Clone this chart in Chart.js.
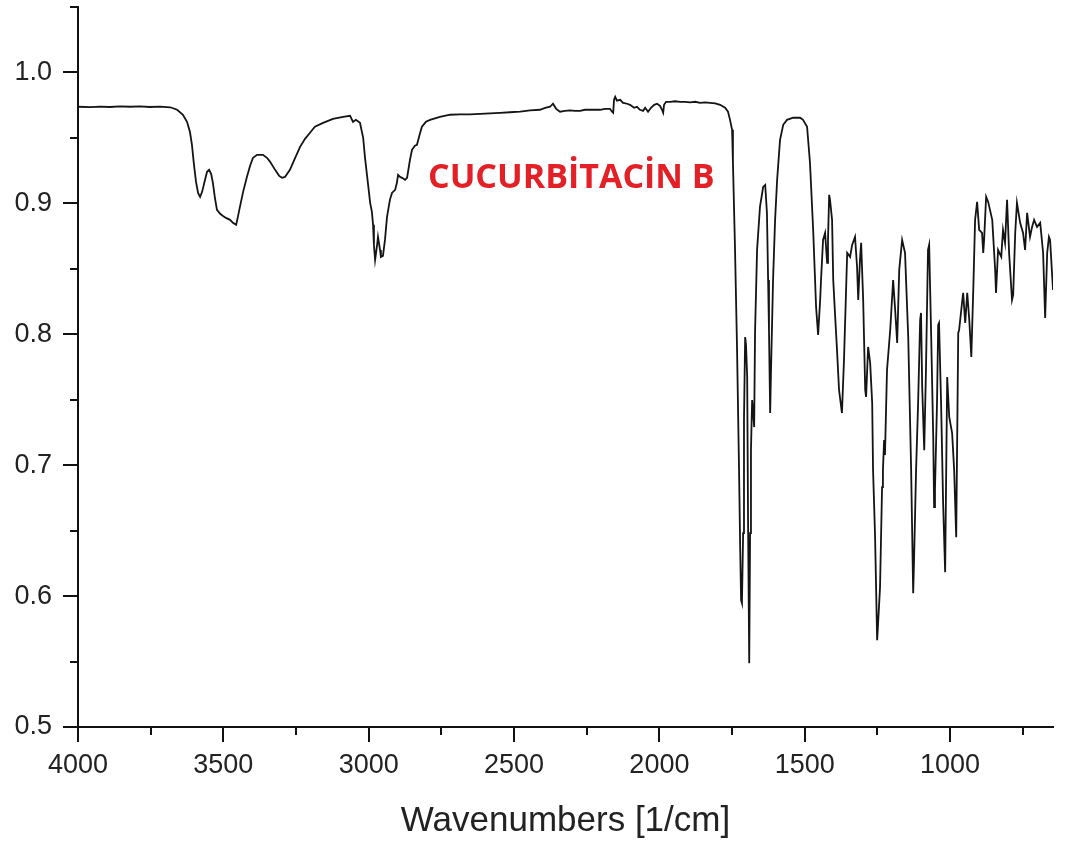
<!DOCTYPE html>
<html>
<head>
<meta charset="utf-8">
<title>Cucurbitacin B IR spectrum</title>
<script src="https://cdn.jsdelivr.net/npm/chart.js@4.4.1/dist/chart.umd.min.js"></script>
<style>
  html, body { margin: 0; padding: 0; background: #ffffff; overflow: hidden; }
  canvas { display: block; }
</style>
</head>
<body>
<canvas id="spectrum" width="1072" height="844"></canvas>
<script>
// FT-IR transmittance spectrum, wavenumber in 1/cm (descending)
const wavenumbers = [
  4000, 3959, 3924, 3890, 3856, 3821, 3787, 3752, 3718, 3683, 3659, 3639, 3625, 3615, 3608, 3601,
  3594, 3587, 3580, 3573, 3563, 3556, 3549, 3542, 3536, 3529, 3522, 3511, 3501, 3491, 3477, 3467,
  3456, 3450, 3443, 3432, 3419, 3408, 3398, 3384, 3364, 3350, 3339, 3322, 3308, 3298, 3288, 3271,
  3253, 3236, 3219, 3202,
  3185, 3157, 3123, 3088, 3064, 3054, 3044, 3030, 3019, 3013, 3002, 2995, 2989, 2985, 2982, 2978,
  2971, 2968, 2961, 2958, 2951, 2944, 2937, 2927, 2920, 2909, 2903, 2899, 2892, 2885, 2875, 2868,
  2858, 2851, 2841, 2834, 2823, 2817, 2803, 2789, 2755, 2720,
  2686, 2651, 2617, 2583, 2548, 2514, 2479, 2445, 2411, 2393, 2376, 2366, 2355, 2342, 2325, 2307,
  2290, 2273, 2256, 2239, 2204, 2187, 2170, 2163, 2159, 2156, 2152, 2146, 2135, 2125, 2111, 2101,
  2087, 2077, 2067, 2056, 2049, 2039, 2029, 2018, 2008, 1998, 1991, 1987, 1984, 1977, 1963, 1946,
  1929, 1912, 1894, 1877, 1860, 1843, 1826, 1808, 1791, 1774, 1764, 1757, 1750,
  1747, 1740, 1733, 1726, 1722, 1719, 1716, 1712, 1709, 1705, 1702, 1698, 1695, 1691, 1688, 1685,
  1681, 1678, 1674, 1671, 1664, 1654, 1643, 1636, 1630, 1626, 1623, 1619, 1616, 1609, 1602, 1595,
  1585, 1574, 1561, 1540, 1516, 1506, 1492, 1482, 1471, 1461, 1454, 1447, 1444, 1437, 1430, 1423,
  1420, 1416, 1413, 1406, 1402, 1396, 1389, 1382, 1372, 1365, 1354, 1344, 1337, 1327, 1320, 1316,
  1310, 1306, 1299, 1292, 1289, 1282, 1275, 1268, 1265, 1258, 1251, 1248, 1241, 1234, 1231, 1227,
  1224, 1217, 1206, 1196, 1189, 1182, 1175, 1165, 1155, 1144, 1134, 1127, 1124, 1117, 1110, 1103,
  1100, 1096, 1089, 1083, 1076, 1072, 1065, 1058, 1055, 1052, 1045, 1041, 1038, 1031, 1024, 1017,
  1010, 1003, 993, 986, 979, 972, 969, 959, 955, 948, 941, 934, 927, 920, 914, 907,
  900, 890, 886, 883, 876, 869, 855, 845, 842, 835, 824, 818, 811, 804, 797, 787,
  783, 776, 770, 759, 749, 742, 735, 725, 718, 711, 701, 690, 680, 673, 666, 660,
  656, 646
];

const transmittance = [
  0.9738, 0.9735, 0.9739, 0.9736, 0.9741, 0.9738, 0.9741, 0.9736, 0.9739, 0.9734, 0.9715, 0.9677, 0.9623, 0.9547, 0.9447, 0.9294,
  0.9164, 0.9080, 0.9050, 0.9088, 0.9180, 0.9241, 0.9256, 0.9225, 0.9157, 0.9042, 0.8950, 0.8920, 0.8904, 0.8889, 0.8874, 0.8851,
  0.8836, 0.8897, 0.8973, 0.9088, 0.9202, 0.9287, 0.9348, 0.9371, 0.9371, 0.9348, 0.9317, 0.9256, 0.9210, 0.9195, 0.9202, 0.9256,
  0.9348, 0.9432, 0.9493, 0.9539,
  0.9585, 0.9615, 0.9646, 0.9661, 0.9669, 0.9623, 0.9638, 0.9615, 0.9501, 0.9355, 0.9141, 0.9004, 0.8935, 0.8836, 0.8683, 0.8568,
  0.8683, 0.8744, 0.8644, 0.8591, 0.8599, 0.8721, 0.8897, 0.9027, 0.9080, 0.9103, 0.9157, 0.9218, 0.9202, 0.9195, 0.9180, 0.9195,
  0.9333, 0.9409, 0.9441, 0.9447, 0.9539, 0.9585, 0.9623, 0.9638, 0.9661, 0.9677,
  0.9680, 0.9680, 0.9684, 0.9688, 0.9692, 0.9696, 0.9700, 0.9711, 0.9715, 0.9730, 0.9738, 0.9761, 0.9722, 0.9700, 0.9707, 0.9711,
  0.9707, 0.9707, 0.9715, 0.9715, 0.9715, 0.9722, 0.9722, 0.9700, 0.9692, 0.9791, 0.9814, 0.9784, 0.9791, 0.9768, 0.9761, 0.9753,
  0.9730, 0.9738, 0.9715, 0.9707, 0.9730, 0.9700, 0.9730, 0.9753, 0.9761, 0.9745, 0.9715, 0.9692, 0.9753, 0.9776, 0.9776, 0.9780,
  0.9776, 0.9776, 0.9772, 0.9776, 0.9768, 0.9772, 0.9768, 0.9764, 0.9753, 0.9730, 0.9700, 0.9638, 0.9562,
  0.9310, 0.8667, 0.7903, 0.6963, 0.6351, 0.5969, 0.5946, 0.6481, 0.7345, 0.7979, 0.7918, 0.7673, 0.6580, 0.5487, 0.6481, 0.7115,
  0.7498, 0.7421, 0.7291, 0.8010, 0.8644, 0.8973, 0.9126, 0.9141, 0.8927, 0.8415, 0.8033, 0.7398, 0.7727, 0.8415, 0.8874, 0.9180,
  0.9485, 0.9600, 0.9638, 0.9654, 0.9654, 0.9638, 0.9585, 0.9310, 0.8797, 0.8209, 0.7995, 0.8262, 0.8415, 0.8721, 0.8774, 0.8545,
  0.8721, 0.9065, 0.9027, 0.8874, 0.8415, 0.8163, 0.7880, 0.7574, 0.7398, 0.7803, 0.8621, 0.8591, 0.8683, 0.8744, 0.8514, 0.8262,
  0.8568, 0.8698, 0.8262, 0.7574, 0.7521, 0.7903, 0.7781, 0.7475, 0.6963, 0.6450, 0.5663, 0.5778, 0.6068, 0.6833, 0.6963, 0.7192,
  0.7077, 0.7727, 0.8033, 0.8415, 0.8186, 0.7933, 0.8492, 0.8721, 0.8621, 0.7979, 0.6963, 0.6022, 0.6274, 0.6963, 0.7475, 0.8109,
  0.8163, 0.7597, 0.7115, 0.7727, 0.8644, 0.8683, 0.7979, 0.7215, 0.6680, 0.6810, 0.7475, 0.8071, 0.8086, 0.7475, 0.6710, 0.6183,
  0.7673, 0.7368, 0.7245, 0.6963, 0.6450, 0.8010, 0.8033, 0.8239, 0.8316, 0.8086, 0.8316, 0.8109, 0.7826, 0.8362, 0.8874, 0.9011,
  0.8797, 0.8774, 0.8621, 0.8721, 0.9050, 0.9011, 0.8874, 0.8492, 0.8316, 0.8644, 0.8591, 0.8797, 0.8698, 0.9027, 0.8621, 0.8262,
  0.8301, 0.8774, 0.9004, 0.8851, 0.8774, 0.8644, 0.8927, 0.8744, 0.8820, 0.8874, 0.8820, 0.8851, 0.8621, 0.8125, 0.8621, 0.8744,
  0.8721, 0.8339
];

// Axis ranges and tick positions
const xRange = [646, 4000];
const yRange = [0.5, 1.05];
const xMajorTicks = [4000, 3500, 3000, 2500, 2000, 1500, 1000];
const xMinorTicks = [3750, 3250, 2750, 2250, 1750, 1250, 750];
const yMajorTicks = [0.5, 0.6, 0.7, 0.8, 0.9, 1.0];
const yMinorTicks = [0.55, 0.65, 0.75, 0.85, 0.95, 1.05];

const xTitle = 'Wavenumbers [1/cm]';
const compoundName = 'CUCURBİTACİN B';
const compoundAnchor = { x: 2796, y: 0.912 };

const axisColor = '#111111';
const labelFont = 'Liberation Sans, Arial, Helvetica, sans-serif';

// Short minor tick marks on both axes
const minorTicksPlugin = {
  id: 'minorTicks',
  afterDraw(chart) {
    const { ctx, chartArea, scales } = chart;
    ctx.save();
    ctx.strokeStyle = axisColor;
    ctx.lineWidth = 2;
    ctx.beginPath();
    xMinorTicks.forEach(v => {
      const px = Math.round(scales.x.getPixelForValue(v));
      ctx.moveTo(px, chartArea.bottom);
      ctx.lineTo(px, chartArea.bottom + 8);
    });
    yMinorTicks.forEach(v => {
      const py = Math.round(scales.y.getPixelForValue(v));
      ctx.moveTo(chartArea.left, py);
      ctx.lineTo(chartArea.left - 8, py);
    });
    ctx.stroke();
    ctx.restore();
  }
};

// Compound name written inside the plot
const compoundLabelPlugin = {
  id: 'compoundLabel',
  afterDraw(chart) {
    const { ctx, scales } = chart;
    ctx.save();
    ctx.fillStyle = 'rgb(226, 32, 38)';
    ctx.font = 'bold 34px "Open Sans", "Noto Sans", sans-serif';
    ctx.textAlign = 'left';
    ctx.textBaseline = 'alphabetic';
    ctx.fillText(compoundName,
      scales.x.getPixelForValue(compoundAnchor.x),
      scales.y.getPixelForValue(compoundAnchor.y));
    ctx.restore();
  }
};

const points = wavenumbers.map((w, i) => ({ x: w, y: transmittance[i] }));

new Chart(document.getElementById('spectrum'), {
  type: 'line',
  data: {
    datasets: [{
      data: points,
      borderColor: '#141414',
      borderWidth: 1.8,
      pointRadius: 0,
      tension: 0,
      fill: false
    }]
  },
  options: {
    responsive: false,
    devicePixelRatio: 1,
    animation: false,
    layout: { padding: { left: 0, right: 19, top: 7, bottom: 2 } },
    plugins: {
      legend: { display: false },
      tooltip: { enabled: false },
      title: { display: false }
    },
    scales: {
      x: {
        type: 'linear',
        reverse: true,
        min: xRange[0],
        max: xRange[1],
        afterBuildTicks: s => { s.ticks = xMajorTicks.map(v => ({ value: v })); },
        afterFit: s => {
          s.height = 115;
          s.paddingLeft = 0;
          s.paddingRight = 0;
        },
        grid: {
          display: true,
          drawOnChartArea: false,
          drawTicks: true,
          tickLength: 15,
          tickWidth: 2,
          tickColor: axisColor,
          lineWidth: 2,
          color: axisColor
        },
        border: { display: true, color: axisColor, width: 2 },
        ticks: {
          autoSkip: false,
          maxRotation: 0,
          padding: 7,
          color: '#222222',
          font: { family: labelFont, size: 27 },
          callback: v => String(v)
        },
        title: {
          display: true,
          text: xTitle,
          color: '#222222',
          font: { family: labelFont, size: 35 },
          padding: { top: 0, bottom: 0 }
        }
      },
      y: {
        type: 'linear',
        min: yRange[0],
        max: yRange[1],
        afterBuildTicks: s => { s.ticks = yMajorTicks.map(v => ({ value: v })); },
        afterFit: s => {
          s.width = 78;
          s.paddingTop = 0;
          s.paddingBottom = 0;
        },
        grid: {
          display: true,
          drawOnChartArea: false,
          drawTicks: true,
          tickLength: 15,
          tickWidth: 2,
          tickColor: axisColor,
          lineWidth: 2,
          color: axisColor
        },
        border: { display: true, color: axisColor, width: 2 },
        ticks: {
          padding: 11,
          color: '#222222',
          font: { family: labelFont, size: 27 },
          callback: v => Number(v).toFixed(1)
        }
      }
    }
  },
  plugins: [minorTicksPlugin, compoundLabelPlugin]
});
</script>
</body>
</html>
